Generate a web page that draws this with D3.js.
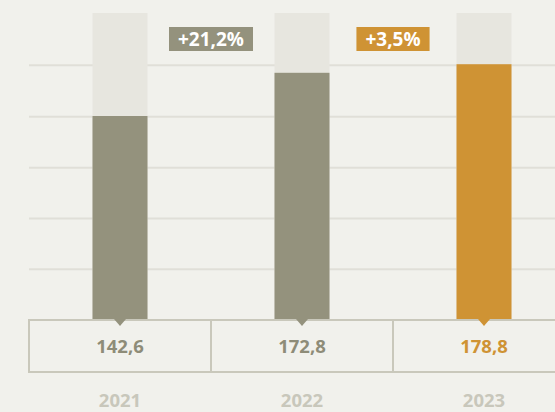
<!DOCTYPE html>
<html><head><meta charset="utf-8">
<script src="https://cdn.jsdelivr.net/npm/d3@7"></script>
<style>
html,body{margin:0;padding:0;background:#f1f1ec;}
svg{display:block;font-family:"Open Sans",sans-serif;}
</style></head>
<body><svg id="c" width="555" height="412"></svg>
<script>
const years = ["2021", "2022", "2023"];
const values = [142.6, 172.8, 178.8];
const valueLabels = ["142,6", "172,8", "178,8"];
const changes = ["+21,2%", "+3,5%"];
const gridValues = [35.5, 71, 106.5, 142, 178];
const domainMax = 214.6;

const colors = ["#94927d", "#94927d", "#cf9334"];
const textColors = ["#8e8c78", "#8e8c78", "#cf9334"];

(function () {
const svg = d3.select("#c");
const W = 555;
const base = 320, topY = 13, left = 29;
const x = d3.scaleBand().domain(years).range([left, left + 182 * 3]).padding(0);
const y = d3.scaleLinear().domain([0, domainMax]).range([base, topY]);
const bw = 55;

// gridlines
svg.append("g").selectAll("line").data(gridValues).join("line")
  .attr("x1", left).attr("x2", W)
  .attr("y1", d => y(d)).attr("y2", d => y(d))
  .attr("stroke", "#e0dfd8").attr("stroke-width", 2);

// background bars
svg.append("g").selectAll("rect").data(years).join("rect")
  .attr("x", d => x(d) + x.bandwidth() / 2 - bw / 2)
  .attr("width", bw)
  .attr("y", y(domainMax))
  .attr("height", y(0) - y(domainMax))
  .attr("fill", "#e7e6df");

// value bars
svg.append("g").selectAll("rect").data(years).join("rect")
  .attr("x", d => x(d) + x.bandwidth() / 2 - bw / 2)
  .attr("width", bw)
  .attr("y", (d, i) => y(values[i]))
  .attr("height", (d, i) => y(0) - y(values[i]))
  .attr("fill", (d, i) => colors[i]);

// box
const boxH = 52;
svg.append("rect").attr("x", left).attr("y", base)
  .attr("width", x.range()[1] - left + 10).attr("height", boxH)
  .attr("fill", "none").attr("stroke", "#c9c8bb").attr("stroke-width", 2);
svg.append("g").selectAll("line").data(years.slice(1)).join("line")
  .attr("x1", d => x(d)).attr("x2", d => x(d))
  .attr("y1", base).attr("y2", base + boxH)
  .attr("stroke", "#c9c8bb").attr("stroke-width", 2);

// notches
svg.append("g").selectAll("path").data(years).join("path")
  .attr("d", d => {
    const cx = x(d) + x.bandwidth() / 2;
    return `M${cx - 6},${base - 1}L${cx + 6},${base - 1}L${cx},${base + 6}Z`;
  })
  .attr("fill", (d, i) => colors[i]);

// value labels
svg.append("g").selectAll("text").data(years).join("text")
  .attr("x", d => x(d) + x.bandwidth() / 2)
  .attr("y", base + 33)
  .attr("text-anchor", "middle")
  .attr("font-size", 18.5).attr("font-weight", 700)
  .attr("fill", (d, i) => textColors[i])
  .text((d, i) => valueLabels[i]);

// year labels
svg.append("g").selectAll("text").data(years).join("text")
  .attr("x", d => x(d) + x.bandwidth() / 2)
  .attr("y", 407)
  .attr("text-anchor", "middle")
  .attr("font-size", 18.5).attr("font-weight", 700)
  .attr("fill", "#c8c7bb")
  .text(d => d);

// change badges
const badgeColors = ["#94927d", "#cf9334"];
changes.forEach((c, i) => {
  const cx = x(years[i + 1]);
  const g = svg.append("g");
  const t = g.append("text")
    .attr("x", cx).attr("y", 46)
    .attr("text-anchor", "middle")
    .attr("font-size", 19).attr("font-weight", 700)
    .attr("fill", "#ffffff").text(c);
  const w = t.node().getComputedTextLength();
  g.insert("rect", "text")
    .attr("x", cx - w / 2 - 9).attr("y", 27)
    .attr("width", w + 18).attr("height", 24)
    .attr("fill", badgeColors[i]);
});
})();
</script></body></html>
